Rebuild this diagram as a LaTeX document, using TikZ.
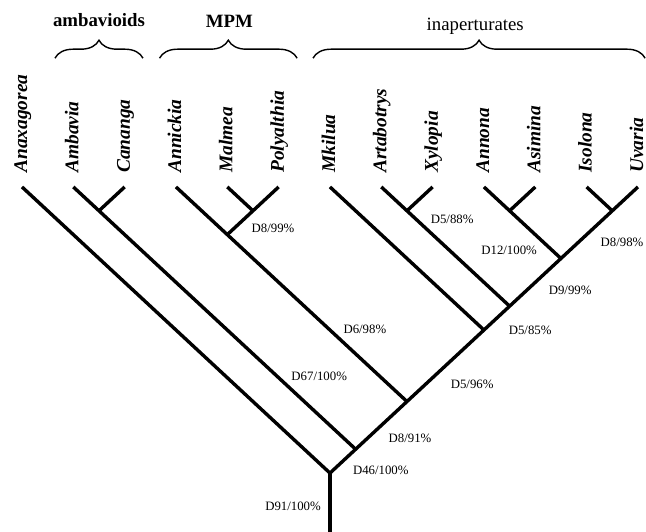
\documentclass[tikz,border=0pt]{standalone}
\usepackage{fontspec}
\setmainfont{Liberation Serif}
\usetikzlibrary{decorations.pathreplacing}

\begin{document}
\begin{tikzpicture}[x=25.67pt,y=23.85pt,
	branch/.style={line width=1.7pt},
	taxon/.style={rotate=90,anchor=base west,inner sep=0pt,font=\fontsize{9.7}{11}\selectfont\bfseries\itshape},
	support/.style={inner sep=0pt,font=\fontsize{6.4}{8}\selectfont},
	clade/.style={decorate,decoration={brace,amplitude=9pt},line width=0.7pt},
	cladename/.style={anchor=base,inner sep=0pt,font=\fontsize{9.4}{11}\selectfont}]
	\useasboundingbox (-0.4286,-7.233) rectangle (12.157,3.92);

	% taxa
	\foreach \name [count=\i from 0] in {Anaxagorea,Ambavia,Cananga,Annickia,Malmea,Polyalthia,Mkilua,Artabotrys,Xylopia,Annona,Asimina,Isolona,Uvaria}{
		\coordinate (L\i) at (\i,0);
		\node[taxon] (t\i) at (\i+0.1,0.29) {\name};
	}

	% internal nodes
	\coordinate (nAC) at (1.5,-0.5);
	\coordinate (nMP) at (4.5,-0.5);
	\coordinate (nAMP) at (4,-1);
	\coordinate (nAX) at (7.5,-0.5);
	\coordinate (nAA) at (9.5,-0.5);
	\coordinate (nIU) at (11.5,-0.5);
	\coordinate (nAU) at (10.5,-1.5);
	\coordinate (nArU) at (9.5,-2.5);
	\coordinate (nMU) at (9,-3);
	\coordinate (nAnU) at (7.5,-4.5);
	\coordinate (nAmU) at (6.5,-5.5);
	\coordinate (root) at (6,-6);
	\coordinate (base) at (6,-7.233);

	\draw[branch] (L0)--(root)--(nAmU)--(nAnU)--(nMU)--(nArU)--(nAU)--(nIU)--(L12);
	\draw[branch] (root)--(base);
	\draw[branch] (L1)--(nAC)--(nAmU);
	\draw[branch] (L2)--(nAC);
	\draw[branch] (L3)--(nAMP)--(nAnU);
	\draw[branch] (nAMP)--(nMP)--(L5);
	\draw[branch] (L4)--(nMP);
	\draw[branch] (L6)--(nMU);
	\draw[branch] (L7)--(nAX)--(nArU);
	\draw[branch] (L8)--(nAX);
	\draw[branch] (L9)--(nAA)--(nAU);
	\draw[branch] (L10)--(nAA);
	\draw[branch] (L11)--(nIU);

	% support values
	\node[support] (s1) at (4.89,-0.86) {D8/99\%};
	\node[support] (s2) at (8.38,-0.67) {D5/88\%};
	\node[support] (s3) at (9.49,-1.32) {D12/100\%};
	\node[support] (s4) at (11.69,-1.17) {D8/98\%};
	\node[support] (s5) at (10.68,-2.16) {D9/99\%};
	\node[support] (s6) at (9.90,-3.00) {D5/85\%};
	\node[support] (s7) at (6.68,-2.98) {D6/98\%};
	\node[support] (s8) at (5.79,-3.98) {D67/100\%};
	\node[support] (s9) at (8.77,-4.13) {D5/96\%};
	\node[support] (s10) at (7.56,-5.28) {D8/91\%};
	\node[support] (s11) at (6.99,-5.95) {D46/100\%};
	\node[support] (s12) at (5.28,-6.69) {D91/100\%};

	% groups
	\draw[clade] (0.643,2.70)--(2.357,2.70);
	\draw[clade] (2.68,2.70)--(5.36,2.70);
	\draw[clade] (5.67,2.70)--(12.14,2.70);
	\node[cladename] (g1) at (1.5,3.36) {\bfseries ambavioids};
	\node[cladename] (g2) at (4.04,3.35) {\bfseries MPM};
	\node[cladename] (g3) at (8.83,3.28) {inaperturates};
\end{tikzpicture}
\end{document}
